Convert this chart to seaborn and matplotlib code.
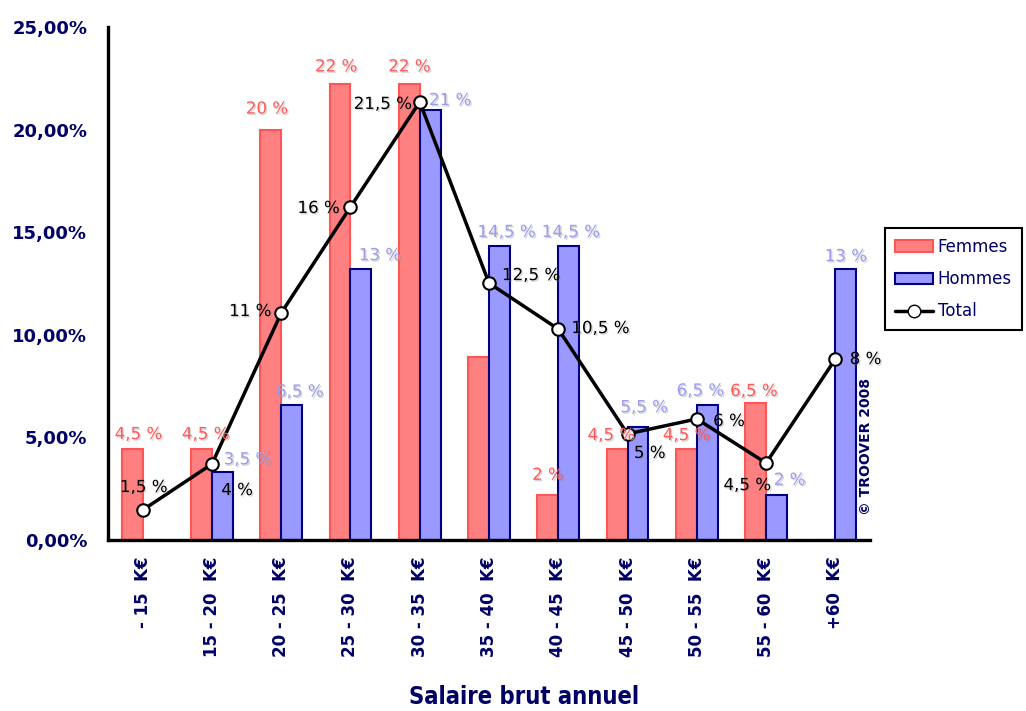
import numpy as np
import pandas as pd
import matplotlib
matplotlib.use('Agg')
import matplotlib.pyplot as plt
import matplotlib.patheffects as pe
from matplotlib.patches import Patch
from matplotlib.lines import Line2D
from matplotlib.ticker import FuncFormatter, FixedLocator
import seaborn as sns

tranches = ['- 15  K€', '15 - 20  K€', '20 - 25  K€', '25 - 30  K€', '30 - 35  K€',
            '35 - 40  K€', '40 - 45  K€', '45 - 50  K€', '50 - 55  K€', '55 - 60  K€', '+60  K€']
femmes = [4.43, 4.43, 20.0, 22.2, 22.2, 8.9, 2.2, 4.43, 4.43, 6.68, 0.0]
hommes = [0.0, 3.3, 6.6, 13.2, 20.95, 14.33, 14.33, 5.5, 6.6, 2.2, 13.2]
total = [1.46, 3.7, 11.06, 16.23, 21.35, 12.52, 10.28, 5.17, 5.9, 3.75, 8.82]

lab_femmes = ['4,5 %', '4,5 %', '20 %', '22 %', '22 %', '', '2 %', '4,5 %', '4,5 %', '6,5 %', '']
lab_hommes = ['', '3,5 %', '6,5 %', '13 %', '21 %', '14,5 %', '14,5 %', '5,5 %', '6,5 %', '2 %', '13 %']
lab_total = ['1,5 %', '4 %', '11 %', '16 %', '21,5 %', '12,5 %', '10,5 %', '5 %', '6 %', '4,5 %', '8 %']

# label offsets in pixels (dx, dy up) from bar top / point
off_f = [(6, 15), (4, 15), (-4, 21), (-4, 18), (0, 18), (0, 0), (0, 20), (-6, 14), (0, 14), (-2, 12), (0, 0)]
off_h = [(0, 0), (25, 13), (8, 13), (19, 14), (20, 10), (7, 14), (2, 14), (6, 20), (-7, 14), (13, 15), (0, 13)]
off_t = [(1, 23), (25, -26), (-31, 2), (-32, -1), (-37, -2), (42, 8), (42, 1), (22, -19), (32, -2), (-19, -22), (30, 0)]

navy = '#000066'
red_face, red_edge, red_txt = '#FF8080', '#FF5555', '#FF5A5A'
blue_face, blue_edge, blue_txt = '#9999FF', '#000080', '#9C9CF0'

sns.set_style('white')
plt.rcParams['font.family'] = ['DejaVu Sans']

df = pd.DataFrame({
    'tranche': tranches * 2,
    'sexe': ['Femmes'] * len(tranches) + ['Hommes'] * len(tranches),
    'pct': femmes + hommes,
})

fig = plt.figure(figsize=(10.26, 7.11), dpi=100)
ax = fig.add_axes([108 / 1026, 1 - 540 / 711, 762 / 1026, 513 / 711])

sns.barplot(data=df, x='tranche', y='pct', hue='sexe', order=tranches,
            palette={'Femmes': red_face, 'Hommes': blue_face}, saturation=1,
            width=0.6, gap=0, linewidth=1.5, legend=False, ax=ax)
for bar in ax.containers[0]:
    bar.set_edgecolor(red_edge)
for bar in ax.containers[1]:
    bar.set_edgecolor(blue_edge)

sns.pointplot(x=tranches, y=total, order=tranches, color='black', markers='o',
              linestyles='-', ax=ax)
for ln in ax.lines:
    if ln.get_marker() == 'o':
        ln.set_markerfacecolor('white')
        ln.set_markeredgecolor('black')
        ln.set_markersize(9)
        ln.set_markeredgewidth(1.5)
        ln.set_linewidth(2.5)
        ln.set_zorder(5)

shadow = [pe.withSimplePatchShadow(offset=(1, -1), shadow_rgbFace='#888888', alpha=0.35)]

for bars, labs, offs, col in [(ax.containers[0], lab_femmes, off_f, red_txt),
                              (ax.containers[1], lab_hommes, off_h, blue_txt)]:
    for bar, lab, (dx, dy) in zip(bars, labs, offs):
        if not lab:
            continue
        ax.annotate(lab, (bar.get_x() + bar.get_width() / 2, bar.get_height()),
                    xytext=(dx, dy), textcoords='offset pixels', ha='center', va='center',
                    fontsize=12, color=col, zorder=6, annotation_clip=False,
                    path_effects=shadow)

for i, (lab, (dx, dy)) in enumerate(zip(lab_total, off_t)):
    ax.annotate(lab, (i, total[i]), xytext=(dx, dy), textcoords='offset pixels',
                ha='center', va='center', fontsize=12, color='black', zorder=6,
                annotation_clip=False, path_effects=shadow)

ax.set_xlim(-0.5, len(tranches) - 0.5)
ax.set_ylim(0, 25)
ax.set_yticks(range(0, 26, 5))
ax.yaxis.set_major_formatter(FuncFormatter(lambda v, p: f'{v:.2f}'.replace('.', ',') + '%'))
ax.tick_params(axis='y', direction='inout', length=10, width=2.2, color='black',
               labelcolor=navy, labelsize=13, pad=10)
for t in ax.get_yticklabels():
    t.set_fontweight('bold')

ax.set_xticks(range(len(tranches)))
ax.set_xticklabels(tranches, rotation=90, fontsize=12, fontweight='bold', color=navy)
ax.tick_params(axis='x', which='major', length=0, pad=12)
ax.xaxis.set_minor_locator(FixedLocator(np.arange(-0.5, len(tranches), 1.0)))
ax.tick_params(axis='x', which='minor', direction='inout', length=10, width=2.2, color='black')

for s in ['top', 'right']:
    ax.spines[s].set_visible(False)
for s in ['left', 'bottom']:
    ax.spines[s].set_linewidth(2.4)
    ax.spines[s].set_color('black')

ax.set_ylabel('')
ax.set_xlabel('Salaire brut annuel', fontsize=17, fontweight='bold', color=navy,
              fontstretch='condensed', va='center')
ax.xaxis.set_label_coords((524 - 108) / 762, (540 - 697) / 513)

ax.text(0.995, 0.048, '© TROOVER 2008', transform=ax.transAxes, rotation=90,
        ha='center', va='bottom', fontsize=10, fontweight='bold', color=navy)

handles = [Patch(facecolor=red_face, edgecolor=red_edge, linewidth=1.5, label='Femmes'),
           Patch(facecolor=blue_face, edgecolor=blue_edge, linewidth=1.5, label='Hommes'),
           Line2D([], [], color='black', linewidth=2.5, marker='o', markersize=9,
                  markerfacecolor='white', markeredgecolor='black', label='Total')]
leg = fig.legend(handles=handles, loc='upper left', bbox_to_anchor=(885 / 1026, 1 - 228 / 711),
                 fontsize=12, labelcolor=navy, frameon=True, fancybox=False, framealpha=1,
                 edgecolor='black', handlelength=2.3, handletextpad=0.25, labelspacing=0.85,
                 borderpad=0.6, borderaxespad=0)
leg.get_frame().set_linewidth(1.5)

fig.savefig('out.png', dpi=100)
